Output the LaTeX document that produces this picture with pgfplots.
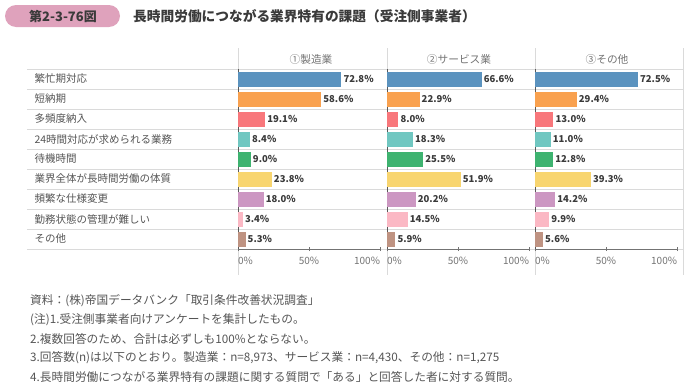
\documentclass[border=0pt]{standalone}
\usepackage{pgfplots}
\pgfplotsset{compat=1.18}
\usepackage{fontspec}
\setmainfont{Noto Sans CJK JP}
\definecolor{c1}{HTML}{5B93BF}
\definecolor{c2}{HTML}{F9A14F}
\definecolor{c3}{HTML}{F8777B}
\definecolor{c4}{HTML}{70C7C1}
\definecolor{c5}{HTML}{3EB370}
\definecolor{c6}{HTML}{F8D56F}
\definecolor{c7}{HTML}{CC97C2}
\definecolor{c8}{HTML}{FBB8C4}
\definecolor{c9}{HTML}{BF9382}
\definecolor{badge}{HTML}{DFA2BC}
\definecolor{txt}{HTML}{3A3A3A}
\definecolor{lab}{HTML}{555555}
\definecolor{gridc}{HTML}{DADADA}
\newcommand\bars[9]{%
 \addplot[fill=c1] coordinates {(#1,0)};
 \addplot[fill=c2] coordinates {(#2,1)};
 \addplot[fill=c3] coordinates {(#3,2)};
 \addplot[fill=c4] coordinates {(#4,3)};
 \addplot[fill=c5] coordinates {(#5,4)};
 \addplot[fill=c6] coordinates {(#6,5)};
 \addplot[fill=c7] coordinates {(#7,6)};
 \addplot[fill=c8] coordinates {(#8,7)};
 \addplot[fill=c9] coordinates {(#9,8)};
}
\pgfplotsset{
 panel/.style={
  scale only axis, width=142pt, height=180pt, anchor=north west,
  xbar, bar width=15pt, bar shift=0pt,
  xmin=0, xmax=100, ymin=-0.5, ymax=8.5, y dir=reverse,
  axis x line*=bottom, axis y line*=left,
  x axis line style={draw=black!55, line width=0.8pt, -},
  y axis line style={draw=black!65, line width=0.8pt, -},
  xtick={0,50,100},
  xticklabels={\makebox[0pt][l]{0\%},50\%,\makebox[0pt][r]{100\%}},
  xtick style={draw=black!55, line width=0.6pt},
  tick align=center, major tick length=4pt,
  xticklabel style={font=\fontsize{10}{11}\selectfont, text=black!55, yshift=-3pt},
  ytick style={draw=none},
  ytick=\empty,
  every axis plot/.append style={draw=none, point meta=x},
  nodes near coords={\pgfmathprintnumber[fixed,fixed zerofill,precision=1,assume math mode=true]{\pgfplotspointmeta}\%},
  nodes near coords align={horizontal},
  every node near coord/.append style={font=\bfseries\fontsize{9.5}{10}\selectfont, text=txt, anchor=west, inner sep=2pt},
  axis background/.style={fill=none},
 }
}
\begin{document}
\begin{tikzpicture}[x=1pt,y=1pt]
\path[use as bounding box] (0pt,0pt) rectangle (690pt,-388pt);
% title
\fill[badge, rounded corners=11pt] (5pt,-5pt) rectangle (120pt,-27pt);
\node[anchor=center, text=txt, font=\bfseries\fontsize{13}{14}\selectfont] at (63pt,-16pt) {第2-3-76図};
\node[anchor=west, inner sep=0, text=txt, font=\bfseries\fontsize{13.7}{15}\selectfont] at (133pt,-16pt) {長時間労働につながる業界特有の課題（受注側事業者）};
% grid
\foreach \k in {0,...,9} {\draw[gridc, line width=0.8pt] (27pt,-69pt-20pt*\k) -- (683pt,-69pt-20pt*\k);}
\foreach \xx in {238,387,535,683} {\draw[gridc, line width=0.8pt] (\xx pt,-48pt) -- (\xx pt,-275pt);}
% headers
\node[text=black!55, font=\fontsize{10.7}{12}\selectfont] at (311pt,-59pt) {①製造業};
\node[text=black!55, font=\fontsize{10.7}{12}\selectfont] at (459pt,-59pt) {②サービス業};
\node[text=black!55, font=\fontsize{10.7}{12}\selectfont] at (607pt,-59pt) {③その他};
\begin{axis}[panel, at={(238pt,-69pt)},
  ytick={0,...,8},
  yticklabels={繁忙期対応,短納期,多頻度納入,24時間対応が求められる業務,待機時間,業界全体が長時間労働の体質,頻繁な仕様変更,勤務状態の管理が難しい,その他},
  yticklabel style={anchor=west, xshift=-205pt, font=\fontsize{10.5}{12}\selectfont, text=lab},
]
\bars{72.8}{58.6}{19.1}{8.4}{9.0}{23.8}{18.0}{3.4}{5.3}
\end{axis}
\begin{axis}[panel, at={(387pt,-69pt)}]
\bars{66.6}{22.9}{8.0}{18.3}{25.5}{51.9}{20.2}{14.5}{5.9}
\end{axis}
\begin{axis}[panel, at={(535pt,-69pt)}]
\bars{72.5}{29.4}{13.0}{11.0}{12.8}{39.3}{14.2}{9.9}{5.6}
\end{axis}
% notes
\begin{scope}[every node/.style={anchor=west, inner sep=0, text=lab, font=\fontsize{11.7}{13}\selectfont}]
\node at (30pt,-301pt) {資料：(株)帝国データバンク「取引条件改善状況調査」};
\node at (30pt,-320pt) {(注)1.受注側事業者向けアンケートを集計したもの。};
\node at (30pt,-339pt) {2.複数回答のため、合計は必ずしも100\%とならない。};
\node at (30pt,-358pt) {3.回答数(n)は以下のとおり。製造業：n=8,973、サービス業：n=4,430、その他：n=1,275};
\node at (30pt,-377pt) {4.長時間労働につながる業界特有の課題に関する質問で「ある」と回答した者に対する質問。};
\end{scope}
\end{tikzpicture}
\end{document}
